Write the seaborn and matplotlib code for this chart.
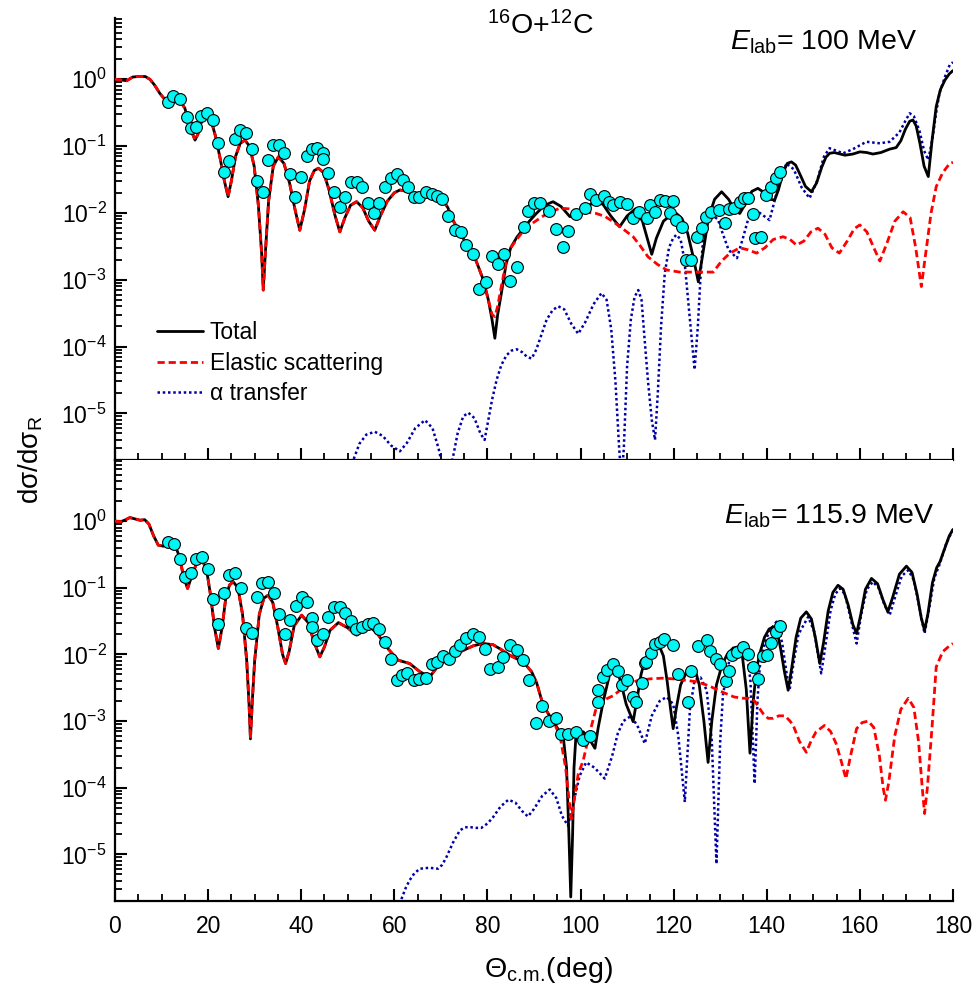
import numpy as np
import matplotlib
matplotlib.use("Agg")
import matplotlib.pyplot as plt
import seaborn as sns
from matplotlib.ticker import FixedLocator, MultipleLocator, NullFormatter, LogFormatterSciNotation
from matplotlib.lines import Line2D

# ---------------- 100 MeV ----------------
top_total_deg = [0, 1.2, 2.5, 3.8, 5.0, 6.5, 7.5, 8.5, 9.6, 10.5, 11.5, 12.8, 14.0, 15.0, 16.0, 16.7, 17.2,
                 17.8, 18.7, 19.7, 20.6, 21.6, 22.6, 23.5, 24.3, 25.0, 25.9, 26.9, 27.9, 28.9, 29.9, 30.8,
                 31.5, 31.85, 32.3, 33.0, 34.0, 35.1, 36.3, 37.5, 38.7, 39.7, 40.7, 41.8, 42.8, 43.7, 44.8,
                 46.0, 47.2, 48.3, 49.4, 50.6, 51.9, 53.2, 54.5, 55.8, 57.0, 58.5, 60.0, 61.2, 62.8, 64.5,
                 66.5, 68.5, 70.4, 71.5, 72.6, 74.1, 75.5, 76.9, 78.0, 79.1, 80.2, 81.0, 81.6, 82.2, 83.0,
                 84.0, 85.0, 86.3, 87.5, 89.0, 90.5, 92.3, 94.1, 95.8, 97.7, 99.3, 101.0, 103.0, 104.8,
                 106.5, 108.4, 110.0, 111.8, 113.3, 114.5, 115.3, 116.3, 117.8, 119.3, 120.6, 121.8, 123.0,
                 124.2, 125.3, 126.3, 127.5, 128.8, 130.3, 131.8, 133.0, 134.2, 135.5, 136.8, 138.1, 139.5,
                 140.6, 141.7, 142.5, 143.5, 144.4, 145.3, 146.2, 147.2, 148.3, 149.6, 150.7, 151.8, 152.7,
                 153.5, 154.5, 155.5, 156.8, 158.5, 160.0, 161.5, 162.8, 164.5, 166.4, 167.8, 168.8, 169.8,
                 170.7, 171.4, 172.1, 172.9, 173.8, 174.7, 175.5, 176.4, 177.3, 178.3, 179.2, 180.0]
top_total = [1.0, 0.98, 0.95, 1.08, 1.1, 1.1, 1.0, 0.82, 0.62, 0.52, 0.49, 0.5, 0.47, 0.37, 0.21, 0.15, 0.123,
             0.15, 0.25, 0.29, 0.25, 0.14, 0.065, 0.03, 0.0175, 0.03, 0.07, 0.11, 0.123, 0.1, 0.05, 0.013,
             0.0025, 0.0007, 0.0025, 0.015, 0.05, 0.069, 0.055, 0.028, 0.011, 0.0055, 0.011, 0.03, 0.043,
             0.0466, 0.04, 0.022, 0.0095, 0.0052, 0.0085, 0.013, 0.0147, 0.012, 0.0075, 0.0055, 0.009,
             0.015, 0.02, 0.022, 0.021, 0.019, 0.0172, 0.0165, 0.0156, 0.012, 0.0078, 0.0049, 0.0035,
             0.0025, 0.0016, 0.001, 0.0005, 0.00025, 0.000133, 0.0003, 0.00063, 0.0017, 0.003, 0.0043,
             0.0055, 0.0075, 0.0098, 0.013, 0.0147, 0.0125, 0.0088, 0.0092, 0.012, 0.0145, 0.0135, 0.009,
             0.0062, 0.009, 0.0115, 0.0075, 0.0038, 0.0024, 0.0042, 0.0075, 0.0092, 0.0098, 0.0082, 0.005,
             0.0022, 0.00093, 0.0025, 0.0085, 0.016, 0.0207, 0.016, 0.0115, 0.0098, 0.014, 0.021, 0.0233,
             0.02, 0.016, 0.0156, 0.022, 0.04, 0.055, 0.058, 0.052, 0.037, 0.025, 0.0207, 0.028, 0.048,
             0.068, 0.078, 0.08, 0.077, 0.073, 0.076, 0.082, 0.08, 0.076, 0.08, 0.09, 0.095, 0.12, 0.18,
             0.235, 0.246, 0.2, 0.11, 0.05, 0.035, 0.12, 0.39, 0.7, 0.98, 1.2, 1.35]

top_elastic_deg = top_total_deg[:73] + [81.0, 81.6, 82.2, 83.0, 84.0, 85.0, 86.3, 87.8, 89.8, 92.5, 95.6,
                  97.5, 99.8, 101.5, 103.4, 105.3, 107.0, 109.2, 111.3, 112.7, 114.5, 116.5, 118.5, 121.3,
                  124.5, 126.5, 128.5, 130.3, 132.1, 134.2, 136.0, 137.8, 139.6, 141.4, 143.5, 145.0, 146.4,
                  148.0, 149.5, 151.0, 152.5, 154.0, 155.6, 157.3, 158.8, 160.0, 161.5, 163.0, 164.3, 165.8,
                  167.5, 169.3, 170.8, 172.0, 173.2, 174.3, 175.3, 176.4, 177.8, 179.3, 180.0]
top_elastic = top_total[:73] + [0.0003, 0.00028, 0.0004, 0.0008, 0.0018, 0.003, 0.004, 0.0055, 0.0071,
              0.0095, 0.0118, 0.0115, 0.0105, 0.0102, 0.0098, 0.0088, 0.0074, 0.0057, 0.0044, 0.0033,
              0.0022, 0.0017, 0.0014, 0.0013, 0.0013, 0.0013, 0.0013, 0.0019, 0.0025, 0.003, 0.0028,
              0.0025, 0.003, 0.004, 0.0044, 0.004, 0.0033, 0.0038, 0.0052, 0.0059, 0.0048, 0.003, 0.0025,
              0.0038, 0.0058, 0.0066, 0.0052, 0.003, 0.0019, 0.0035, 0.0075, 0.0104, 0.0085, 0.003,
              0.00079, 0.003, 0.01, 0.0247, 0.04, 0.055, 0.057]

top_alpha_deg = [50.3, 51.2, 52.5, 54.0, 55.8, 57.5, 59.3, 61.2, 62.7, 64.5, 66.6, 68.2, 69.5, 70.2, 71.0,
                 72.0, 72.6, 73.6, 74.8, 75.9, 77.2, 78.5, 79.4, 80.2, 81.0, 82.0, 83.0, 84.1, 85.2, 86.3,
                 87.5, 88.5, 89.5, 90.5, 91.6, 92.7, 94.0, 95.2, 96.5, 98.0, 99.5, 101.0, 102.8, 104.5,
                 105.6, 106.6, 107.5, 108.3, 108.8, 109.3, 110.0, 110.8, 111.6, 112.4, 113.1, 113.8, 114.5,
                 115.3, 116.0, 116.6, 117.3, 118.1, 119.0, 119.9, 120.6, 121.5, 122.3, 123.0, 123.8, 124.5,
                 125.2, 125.8, 126.3, 127.2, 128.5, 129.5, 130.5, 131.8, 133.6, 134.8, 136.0, 137.0, 138.5,
                 140.6, 142.5, 144.2, 145.8, 147.5, 149.2, 150.8, 152.3, 153.5, 155.0, 156.4, 158.5, 161.4,
                 164.3, 166.4, 168.5, 169.8, 170.7, 171.6, 172.8, 173.8, 174.7, 175.6, 176.4, 177.1, 178.3,
                 179.3, 180.0]
top_alpha = [1.5e-6, 2e-6, 3.5e-6, 4.8e-6, 5.3e-6, 4.6e-6, 3.3e-6, 2.7e-6, 3.6e-6, 6e-6, 7.9e-6, 6e-6, 3e-6,
             1.8e-6, 1e-6, 1.5e-6, 2.2e-6, 5e-6, 9e-6, 1.02e-5, 8.5e-6, 5e-6, 4e-6, 8e-6, 1.6e-5, 3.2e-5,
             5.3e-5, 7.4e-5, 8.7e-5, 9.1e-5, 8.2e-5, 7e-5, 6.6e-5, 9e-5, 1.5e-4, 2.5e-4, 3.5e-4, 4e-4,
             3.6e-4, 2.2e-4, 1.55e-4, 2.3e-4, 4.3e-4, 6.3e-4, 5e-4, 1.8e-4, 3e-5, 3e-6, 1e-6, 3e-6, 5e-5,
             2.5e-4, 5.5e-4, 7e-4, 5e-4, 1.2e-4, 3e-5, 8e-6, 4e-6, 2e-5, 2e-4, 1.25e-3, 3e-3, 4.2e-3, 4.7e-3,
             4e-3, 2e-3, 6e-4, 1.5e-4, 4.5e-5, 2e-4, 1.2e-3, 3.9e-3, 7e-3, 9e-3, 8e-3, 5e-3, 2.8e-3, 2.1e-3,
             4e-3, 8e-3, 1.1e-2, 1.0e-2, 7.8e-3, 2.5e-2, 5.5e-2, 4.5e-2, 2.4e-2, 1.66e-2, 3e-2, 7e-2, 9.3e-2,
             8.5e-2, 7.8e-2, 9e-2, 0.116, 0.11, 0.116, 0.16, 0.24, 0.31, 0.28, 0.17, 0.085, 0.062, 0.13, 0.32,
             0.62, 1.1, 1.64, 1.8]

top_exp_deg = [11.45, 12.5, 14.0, 15.4, 16.3, 17.5, 18.5, 19.8, 21.1, 22.2, 23.4, 24.5, 25.8, 26.8, 28.1,
               29.35, 30.4, 31.7, 32.9, 34.0, 35.3, 36.35, 37.6, 38.65, 39.9, 41.2, 42.3, 43.4, 44.6, 44.7,
               45.8, 47.0, 48.3, 49.4, 50.6, 51.9, 53.1, 54.4, 55.6, 56.8, 58.0, 59.2, 60.5, 61.8, 63.0,
               64.2, 65.3, 66.8, 68.0, 69.2, 70.3, 71.6, 73.0, 74.4, 75.5, 76.9, 78.2, 79.6, 80.9, 82.2,
               83.5, 84.8, 86.3, 87.8, 88.7, 90.0, 91.3, 93.2, 94.7, 96.2, 97.3, 99.0, 100.9, 102.1, 103.3,
               105.0, 106.1, 107.0, 108.4, 110.0, 111.2, 112.6, 114.2, 114.9, 116.0, 117.0, 118.1, 119.2,
               119.9, 120.6, 121.7, 122.7, 123.8, 125.0, 126.0, 126.9, 128.1, 129.8, 131.0, 131.9, 133.0,
               134.2, 135.1, 136.0, 137.1, 137.4, 138.8, 139.9, 140.9, 141.9, 142.9]
top_exp = [0.46, 0.56, 0.50, 0.27, 0.185, 0.195, 0.28, 0.316, 0.246, 0.112, 0.041, 0.0598, 0.126, 0.174,
           0.155, 0.0905, 0.030, 0.0203, 0.061, 0.103, 0.103, 0.080, 0.038, 0.0175, 0.0348, 0.071, 0.0905,
           0.0946, 0.080, 0.0634, 0.040, 0.0203, 0.0121, 0.0175, 0.0293, 0.0293, 0.0242, 0.0142, 0.00986,
           0.0142, 0.0242, 0.033, 0.0382, 0.0311, 0.0242, 0.0171, 0.0175, 0.0207, 0.0192, 0.0179, 0.016,
           0.0091, 0.0055, 0.0051, 0.0033, 0.0024, 0.00072, 0.00093, 0.00226, 0.00172, 0.0024, 0.00097,
           0.00157, 0.0062, 0.0108, 0.0139, 0.0139, 0.0108, 0.0057, 0.0031, 0.0054, 0.0096, 0.0117,
           0.0192, 0.0156, 0.0179, 0.0147, 0.0132, 0.0147, 0.0136, 0.0083, 0.0104, 0.0083, 0.0132, 0.0104,
           0.0156, 0.015, 0.0098, 0.015, 0.0078, 0.0062, 0.002, 0.002, 0.0043, 0.006, 0.0088, 0.0104,
           0.011, 0.0071, 0.0113, 0.0117, 0.0147, 0.0166, 0.0166, 0.0096, 0.0042, 0.0043, 0.0185, 0.0242,
           0.033, 0.0405]

# ---------------- 115.9 MeV ----------------
bot_total_deg = [0, 1.3, 2.3, 3.2, 4.3, 5.4, 6.4, 7.3, 8.3, 9.3, 10.4, 11.5, 12.8, 13.8, 14.8, 15.6, 16.5,
                 17.5, 18.6, 19.6, 20.5, 21.4, 22.2, 23.0, 23.8, 24.6, 25.4, 26.4, 27.4, 28.3, 28.8, 29.1,
                 29.5, 30.0, 31.0, 32.0, 32.9, 33.9, 35.0, 36.0, 36.65, 37.4, 38.5, 40.1, 41.5, 42.8, 44.0,
                 45.0, 46.2, 48.0, 50.0, 51.9, 53.3, 54.8, 56.5, 58.3, 60.8, 63.3, 65.5, 67.6, 69.8, 72.0,
                 74.1, 77.0, 79.1, 81.2, 83.0, 84.8, 87.7, 89.5, 90.6, 92.0, 94.1, 95.5, 96.3, 97.0, 97.5,
                 97.9, 98.3, 98.6, 99.0, 100.0, 100.6, 101.8, 103.1, 103.8, 104.9, 106.3, 107.4, 108.6,
                 109.8, 111.3, 112.3, 113.0, 113.8, 115.0, 116.0, 117.0, 117.8, 118.6, 119.3, 119.9, 120.6,
                 121.5, 122.8, 123.8, 124.6, 125.5, 126.5, 127.4, 128.2, 129.2, 130.4, 131.5, 132.8, 133.8,
                 134.8, 135.6, 136.4, 137.1, 137.8, 138.5, 139.5, 140.5, 141.4, 142.3, 143.0, 143.8, 144.6,
                 145.4, 146.3, 147.3, 148.5, 149.6, 150.5, 151.4, 152.2, 153.2, 154.2, 155.3, 156.4, 157.5,
                 158.5, 159.3, 160.2, 161.2, 162.5, 163.8, 165.0, 166.0, 167.0, 168.5, 170.0, 171.2, 172.3,
                 173.2, 173.9, 174.6, 175.6, 176.5, 177.2, 178.3, 179.2, 180.0]
bot_total = [1.0, 0.98, 1.05, 1.13, 1.08, 1.03, 1.05, 0.9, 0.6, 0.436, 0.42, 0.49, 0.45, 0.3, 0.14, 0.0977,
             0.15, 0.23, 0.26, 0.2, 0.08, 0.025, 0.0123, 0.025, 0.07, 0.11, 0.123, 0.1, 0.04, 0.008, 0.0018,
             0.00054, 0.002, 0.008, 0.04, 0.07, 0.0774, 0.06, 0.025, 0.01, 0.0073, 0.011, 0.027, 0.0388,
             0.03, 0.015, 0.0092, 0.013, 0.023, 0.03, 0.025, 0.0194, 0.023, 0.0259, 0.02, 0.013, 0.0082,
             0.0073, 0.0055, 0.0046, 0.0073, 0.0095, 0.0109, 0.0135, 0.0146, 0.014, 0.0118, 0.0097, 0.0077,
             0.0055, 0.0037, 0.0017, 0.001, 0.0007, 0.00058, 0.0002, 0.00002, 0.0000023, 0.00002, 0.0002,
             0.00058, 0.00068, 0.00069, 0.00055, 0.00039, 0.0008, 0.002, 0.0052, 0.0065, 0.004, 0.0018,
             0.00098, 0.0025, 0.005, 0.0082, 0.0115, 0.013, 0.013, 0.0095, 0.004, 0.0016, 0.00077, 0.0016,
             0.0035, 0.0055, 0.0065, 0.006, 0.0035, 0.001, 0.00024, 0.001, 0.0035, 0.007, 0.01, 0.0125,
             0.013, 0.009, 0.003, 0.00033, 0.002, 0.006, 0.0103, 0.018, 0.024, 0.0259, 0.021, 0.012, 0.0055,
             0.0029, 0.0065, 0.018, 0.035, 0.0435, 0.034, 0.017, 0.0073, 0.015, 0.045, 0.085, 0.109, 0.095,
             0.055, 0.028, 0.0206, 0.04, 0.095, 0.138, 0.115, 0.065, 0.0435, 0.07, 0.16, 0.211, 0.17, 0.08,
             0.035, 0.023, 0.04, 0.12, 0.2, 0.245, 0.4, 0.6, 0.75]

bot_elastic_deg = bot_total_deg[:72] + [94.1, 95.6, 96.8, 97.6, 98.1, 98.7, 99.5, 100.6, 101.8, 103.4,
                  105.2, 107.0, 109.5, 112.0, 114.9, 117.5, 119.9, 122.5, 124.9, 127.5, 130.6, 133.0, 134.9,
                  136.2, 137.4, 138.3, 139.2, 140.3, 141.4, 142.6, 143.9, 145.0, 145.7, 147.0, 148.5, 149.5,
                  150.6, 152.4, 153.7, 154.9, 156.0, 157.0, 158.0, 159.3, 160.5, 161.8, 163.0, 164.2, 165.0,
                  165.5, 166.2, 167.5, 168.8, 170.4, 171.6, 172.6, 173.4, 173.9, 174.5, 175.5, 176.4, 177.8,
                  179.0, 180.0]
bot_elastic = bot_total[:72] + [0.001, 0.0006, 0.0002, 0.00006, 0.000034, 0.00007, 0.00016, 0.00026, 0.0006,
              0.0016, 0.0021, 0.0024, 0.0033, 0.004, 0.0043, 0.0044, 0.0043, 0.0041, 0.0039, 0.0034, 0.0027,
              0.0023, 0.0022, 0.0022, 0.002, 0.0016, 0.0013, 0.0011, 0.0011, 0.0012, 0.0012, 0.001, 0.00086,
              0.0005, 0.00034, 0.0005, 0.00069, 0.00086, 0.0007, 0.00046, 0.00025, 0.000137, 0.0003, 0.00077,
              0.00095, 0.001, 0.0008, 0.0003, 0.0001, 0.000065, 0.00012, 0.0006, 0.0015, 0.0022, 0.0016,
              0.0005, 0.0001, 0.000041, 0.0001, 0.0008, 0.0065, 0.011, 0.013, 0.0146]

bot_alpha_deg = [61.0, 61.6, 62.5, 63.3, 64.3, 65.5, 67.5, 69.4, 70.3, 71.2, 72.6, 74.1, 75.2, 76.2, 77.5,
                 78.7, 80.0, 81.2, 82.8, 84.5, 86.0, 87.4, 88.7, 90.0, 91.8, 93.4, 94.8, 96.0, 97.3, 98.5,
                 99.8, 101.2, 103.0, 105.2, 106.8, 108.0, 109.2, 110.9, 112.4, 113.8, 115.3, 117.0, 118.5,
                 119.9, 121.0, 122.4, 123.5, 124.5, 125.8, 127.1, 128.2, 129.2, 130.0, 130.6, 132.1, 133.5,
                 135.7, 136.5, 137.4, 138.0, 138.5, 139.5, 140.5, 142.1, 143.3, 144.3, 144.9, 145.7, 146.8,
                 148.9, 150.2, 151.0, 151.7, 152.5, 153.7, 154.7, 155.7, 156.8, 158.0, 159.3, 160.3, 161.5,
                 162.8, 164.0, 165.3, 166.4, 167.5, 169.0, 170.4, 171.6, 172.8, 173.9, 174.8, 176.0, 177.2,
                 178.5, 180.0]
bot_alpha = [1.5e-6, 2.2e-6, 3.2e-6, 4.1e-6, 5.2e-6, 6.1e-6, 6.3e-6, 6.1e-6, 7e-6, 9.1e-6, 1.5e-5, 2.3e-5,
             2.55e-5, 2.57e-5, 2.5e-5, 2.5e-5, 2.9e-5, 3.6e-5, 5.2e-5, 6.6e-5, 6e-5, 4.5e-5, 3.7e-5, 4.8e-5,
             7.6e-5, 9.4e-5, 7e-5, 3.8e-5, 2.7e-5, 6e-5, 1.5e-4, 2.4e-4, 2e-4, 1.37e-4, 3e-4, 6.5e-4, 1e-3,
             1.2e-3, 8e-4, 4.6e-4, 1.2e-3, 2e-3, 2.3e-3, 1.8e-3, 6e-4, 6.1e-5, 1.5e-3, 4.1e-3, 4.5e-3,
             2.9e-3, 5e-4, 7.2e-6, 5e-4, 2.5e-3, 9.2e-3, 1.2e-2, 1.16e-2, 4e-3, 1.15e-4, 2e-3, 6.5e-3,
             1.4e-2, 2.2e-2, 3.1e-2, 1.5e-2, 5e-3, 2.9e-3, 7e-3, 2e-2, 3.66e-2, 2.2e-2, 1e-2, 5.2e-3, 1.2e-2,
             4.5e-2, 8e-2, 9.77e-2, 8e-2, 3.5e-2, 1.46e-2, 4e-2, 9.5e-2, 0.123, 0.1, 0.055, 0.0388, 0.07,
             0.15, 0.184, 0.13, 0.05, 0.0206, 0.045, 0.14, 0.232, 0.45, 0.75]

bot_exp_deg = [11.45, 12.7, 14.0, 15.1, 16.25, 17.4, 18.6, 19.9, 21.1, 22.2, 23.4, 24.5, 25.8, 27.0, 28.1,
               29.35, 30.4, 31.6, 32.9, 34.1, 35.3, 36.5, 37.6, 38.9, 40.1, 41.3, 42.4, 42.4, 43.5, 44.6,
               45.8, 47.0, 48.3, 49.5, 50.7, 51.75, 53.0, 54.3, 55.5, 56.8, 58.0, 59.2, 60.5, 61.6, 62.8,
               64.2, 65.3, 66.8, 68.0, 69.2, 70.5, 71.8, 73.0, 74.2, 75.5, 76.9, 78.2, 79.4, 80.65, 82.2,
               83.4, 84.8, 86.3, 87.7, 89.0, 90.4, 91.8, 93.3, 94.7, 95.9, 97.3, 99.0, 100.6, 102.0, 103.65,
               103.8, 104.9, 105.7, 107.0, 108.1, 109.0, 110.0, 111.2, 112.0, 113.1, 113.8, 114.1, 115.2,
               116.0, 117.0, 117.9, 119.9, 121.0, 123.1, 123.8, 125.3, 127.1, 127.9, 129.1, 129.9, 131.2,
               131.9, 132.6, 133.7, 134.9, 136.0, 137.1, 138.2, 139.1, 140.0, 141.0, 141.9, 142.9]
bot_exp = [0.49, 0.46, 0.266, 0.143, 0.167, 0.266, 0.29, 0.188, 0.069, 0.029, 0.084, 0.155, 0.164, 0.0977,
           0.025, 0.021, 0.0715, 0.116, 0.123, 0.084, 0.040, 0.020, 0.0326, 0.053, 0.0715, 0.0615, 0.0346,
           0.0259, 0.0163, 0.020, 0.0366, 0.0517, 0.0517, 0.042, 0.0318, 0.0244, 0.0259, 0.029, 0.0297,
           0.0244, 0.0151, 0.0085, 0.0042, 0.0049, 0.0052, 0.0041, 0.0043, 0.0044, 0.0071, 0.0077, 0.0094,
           0.0085, 0.0113, 0.014, 0.0177, 0.020, 0.0183, 0.0122, 0.0061, 0.0065, 0.0092, 0.014, 0.0116,
           0.0082, 0.0041, 0.00094, 0.00167, 0.001, 0.0011, 0.00063, 0.00065, 0.00069, 0.00052, 0.00059,
           0.0019, 0.0029, 0.0046, 0.0059, 0.0073, 0.0056, 0.0035, 0.0041, 0.0023, 0.0019, 0.0037, 0.0074,
           0.0077, 0.0105, 0.0142, 0.0154, 0.0173, 0.014, 0.005, 0.0019, 0.0056, 0.0133, 0.0163, 0.0113,
           0.0085, 0.0073, 0.004, 0.0056, 0.0097, 0.011, 0.013, 0.0103, 0.0065, 0.0043, 0.0094, 0.0097,
           0.0146, 0.0218, 0.0268]

tick_labels_x = ["0", "20", "40", "60", "80", "100", "120", "140", "160", "180"]
legend_labels = ["Total", "Elastic scattering", "\u03b1 transfer"]
energy_labels = [r"$E_{\mathrm{lab}}$= 100 MeV", r"$E_{\mathrm{lab}}$= 115.9 MeV"]

# ---------------- style ----------------
sns.set_style("ticks")
plt.rcParams["font.family"] = ["Liberation Sans", "DejaVu Sans"]
plt.rcParams["mathtext.fontset"] = "custom"
plt.rcParams["mathtext.rm"] = "Liberation Sans"
plt.rcParams["mathtext.it"] = "Liberation Sans:italic"
plt.rcParams["mathtext.bf"] = "Liberation Sans:bold"
plt.rcParams["mathtext.sf"] = "Liberation Sans"
plt.rcParams["axes.unicode_minus"] = False
for key in ("text.color", "axes.labelcolor", "xtick.color", "ytick.color", "axes.edgecolor"):
    plt.rcParams[key] = "black"

RED = "#FF0000"
BLUE = "#0000A8"
CYAN = "#00F5F5"
DASH = (0, (2.6, 1.4))
DOT = (0, (1.0, 1.1))

Y_MIN, Y_MAX = 2e-6, 8.25
y_major = [10.0 ** k for k in range(-5, 1)]
y_minor = [m * 10.0 ** k for k in range(-6, 1) for m in range(2, 10) if Y_MIN <= m * 10.0 ** k <= Y_MAX]

fig = plt.figure(figsize=(9.76, 9.97), dpi=100)
ax_top = fig.add_axes([0.1178, 0.5386, 0.8586, 0.4433])
ax_bot = fig.add_axes([0.1178, 0.0963, 0.8586, 0.4423])

panels = [
    (ax_top, top_total_deg, top_total, top_elastic_deg, top_elastic, top_alpha_deg, top_alpha, top_exp_deg, top_exp),
    (ax_bot, bot_total_deg, bot_total, bot_elastic_deg, bot_elastic, bot_alpha_deg, bot_alpha, bot_exp_deg, bot_exp),
]

for ax, td, tv, ed, ev, ad, av, xd, xv in panels:
    ax.set_yscale("log")
    sns.lineplot(x=ad, y=av, ax=ax, color=BLUE, lw=1.8, linestyle=DOT, estimator=None, sort=False, zorder=2)
    sns.lineplot(x=td, y=tv, ax=ax, color="black", lw=2.0, estimator=None, sort=False, zorder=3)
    sns.lineplot(x=ed, y=ev, ax=ax, color=RED, lw=2.0, linestyle=DASH, estimator=None, sort=False, zorder=4)
    sns.scatterplot(x=xd, y=xv, ax=ax, s=72, color=CYAN, edgecolor="black", linewidth=0.8,
                    zorder=6, legend=False)

    ax.set_xlim(0, 180)
    ax.set_ylim(Y_MIN, Y_MAX)
    ax.set_xlabel("")
    ax.set_ylabel("")
    for side in ("top", "right"):
        ax.spines[side].set_visible(False)
    for side in ("left", "bottom"):
        ax.spines[side].set_linewidth(1.6)
    ax.xaxis.set_major_locator(MultipleLocator(20))
    ax.xaxis.set_minor_locator(MultipleLocator(5))
    ax.yaxis.set_major_locator(FixedLocator(y_major))
    ax.yaxis.set_minor_locator(FixedLocator(y_minor))
    ax.yaxis.set_minor_formatter(NullFormatter())
    ax.yaxis.set_major_formatter(LogFormatterSciNotation())
    ax.tick_params(which="major", direction="in", length=8.5, width=1.5, labelsize=16.5, pad=6,
                   colors="black")
    ax.tick_params(which="minor", direction="in", length=5, width=1.3, colors="black")
    ax.tick_params(axis="x", which="both", top=False)
    ax.tick_params(axis="y", which="both", right=False)

ax_top.tick_params(axis="x", labelbottom=False)
ax_bot.set_xticks(np.arange(0, 181, 20))
ax_bot.set_xticklabels(tick_labels_x)
ax_bot.tick_params(axis="x", pad=10)

handles = [
    Line2D([], [], color="black", lw=2.0),
    Line2D([], [], color=RED, lw=2.0, linestyle=DASH),
    Line2D([], [], color=BLUE, lw=1.8, linestyle=DOT),
]
ax_top.legend(handles, legend_labels, loc="upper left", bbox_to_anchor=(0.05, 0.314), frameon=False,
              fontsize=16.5, handlelength=2.0, handletextpad=0.3, labelspacing=0.33, borderpad=0,
              borderaxespad=0)

fig.text(540 / 976, 1 - 34 / 997, r"$^{16}$O+$^{12}$C", fontsize=20.5, ha="center", va="baseline")
fig.text(917 / 976, 1 - 50 / 997, energy_labels[0], fontsize=20.5, ha="right", va="baseline")
fig.text(935 / 976, 1 - 524 / 997, energy_labels[1], fontsize=20.5, ha="right", va="baseline")
fig.text(0.031, 0.5386, "d\u03c3/d\u03c3$_{\\mathrm{R}}$", fontsize=20, rotation=90, ha="center", va="center")
fig.text(548 / 976, 1 - 977 / 997, r"$\Theta_{\mathrm{c.\!m.\!}}$(deg)", fontsize=20.5, ha="center",
         va="baseline")

fig.savefig("out.png", dpi=100)
